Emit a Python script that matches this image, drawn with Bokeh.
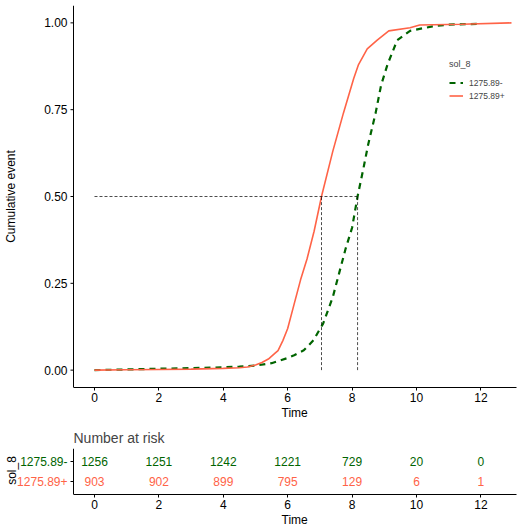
import math
from bokeh.plotting import figure
from bokeh.models import (ColumnDataSource, Range1d, FixedTicker, Legend, LegendItem, Title)
from bokeh.layouts import column
from bokeh.embed import file_html
from bokeh.resources import INLINE
from bokeh.core.properties import value

# ---------------- data ----------------
groups = ["1275.89-", "1275.89+"]
colors = ["#006400", "#FF6347"]
strata_name = "sol_8"

t_low = [0, 1, 2, 3, 4, 4.5, 5.0, 5.5, 6.0, 6.2, 6.5, 6.8, 7.1, 7.4, 7.6, 7.8, 8.0,
         8.17, 8.35, 8.5, 8.73, 8.9, 9.1, 9.4, 9.8, 10.5, 11.0, 11.9]
y_low = [0, 0.002, 0.004, 0.006, 0.008, 0.01, 0.013, 0.02, 0.035, 0.043, 0.057, 0.086,
         0.134, 0.21, 0.28, 0.35, 0.41, 0.50, 0.58, 0.65, 0.74, 0.82, 0.88, 0.95, 0.977,
         0.99, 0.995, 0.997]

t_high = [0, 1, 2, 3, 4, 4.5, 4.75, 5.0, 5.2, 5.4, 5.6, 5.7, 5.85, 6.0, 6.2, 6.4, 6.6,
          6.82, 7.05, 7.4, 7.73, 8.05, 8.2, 8.47, 8.78, 9.14, 9.8, 10.1, 11.4, 12.95]
y_high = [0, 0.001, 0.002, 0.003, 0.005, 0.007, 0.009, 0.015, 0.022, 0.032, 0.048, 0.056,
          0.085, 0.12, 0.19, 0.26, 0.32, 0.40, 0.50, 0.63, 0.74, 0.84, 0.88, 0.925, 0.95,
          0.977, 0.986, 0.994, 0.996, 1.0]

median_low = 8.17
median_high = 7.05

risk_times = [0, 2, 4, 6, 8, 10, 12]
risk_low = [1256, 1251, 1242, 1221, 729, 20, 0]
risk_high = [903, 902, 899, 795, 129, 6, 1]

x_ticks = [0, 2, 4, 6, 8, 10, 12]
y_ticks = [0, 0.25, 0.5, 0.75, 1.0]
y_tick_labels = ["0.00", "0.25", "0.50", "0.75", "1.00"]

FONT = "Liberation Sans"

# layout constants (pixels)
W = 529
FRAME_L = 73
FRAME_R = 516
X0, X1 = -0.652, 13.106
PX_PER_UNIT = (FRAME_R - FRAME_L) / (X1 - X0)
u = 1 / PX_PER_UNIT
FX0 = X0 - FRAME_L * u          # full-width frame range
FX1 = FX0 + W * u
XLABEL_OFFSET = 281             # left edge of the centred "Time" label


def style_axis(ax):
    ax.axis_line_color = "black"
    ax.axis_line_width = 1
    ax.major_tick_line_color = "black"
    ax.major_tick_out = 3
    ax.major_tick_in = 0
    ax.minor_tick_line_color = None
    ax.major_label_text_font = FONT
    ax.major_label_text_font_size = "12px"
    ax.major_label_text_color = "black"
    ax.major_label_standoff = 2


def x_title(fig):
    ttl = Title(text="Time", align="left", offset=XLABEL_OFFSET, standoff=-2,
                text_font=FONT, text_font_size="12px", text_font_style="normal",
                text_color="black")
    fig.add_layout(ttl, "below")


def left_axis(fig, y0, y1, ticks, labels, label_colors, title, title_y, title_dx):
    fig.segment(x0=[X0], y0=[y0], x1=[X0], y1=[y1], line_color="black", line_width=1)
    fig.segment(x0=[X0 - 3 * u] * len(ticks), y0=ticks, x1=[X0] * len(ticks), y1=ticks,
                line_color="black", line_width=1)
    src = ColumnDataSource(dict(x=[X0 - 6 * u] * len(ticks), y=ticks, txt=labels, c=label_colors))
    fig.text(x="x", y="y", text="txt", text_color="c", source=src,
             text_font=value(FONT), text_font_size="12px",
             text_align="right", text_baseline="middle")
    fig.text(x=[X0 - title_dx * u], y=[title_y], text=[title], angle=math.pi / 2,
             text_color="black", text_font=value(FONT), text_font_size="12px",
             text_align="center", text_baseline="middle")


# ---------------- main plot ----------------
YA, YB = -0.05, 1.05
p = figure(width=W, height=423, output_backend="svg", toolbar_location=None,
           x_range=Range1d(FX0, FX1), y_range=Range1d(YA, YB),
           min_border_left=0, min_border_right=0,
           min_border_top=5, min_border_bottom=36)
p.outline_line_color = None
p.grid.visible = False

r_low = p.line(t_low, y_low, line_color=colors[0], line_width=2.2, line_dash="6 5")
r_high = p.line(t_high, y_high, line_color=colors[1], line_width=1.6)

# median lines
p.line([0, median_low], [0.5, 0.5], line_color="black", line_width=0.7, line_dash="3 2")
p.line([median_high, median_high], [0, 0.5], line_color="black", line_width=0.7, line_dash="3 2")
p.line([median_low, median_low], [0, 0.5], line_color="black", line_width=0.7, line_dash="3 2")

style_axis(p.xaxis[0])
p.xaxis.ticker = FixedTicker(ticks=x_ticks)
p.xaxis.bounds = (X0, X1)
x_title(p)
p.yaxis.visible = False
left_axis(p, YA, YB, y_ticks, y_tick_labels, ["black"] * len(y_ticks),
          "Cumulative event", 0.5, 63)

legend = Legend(items=[LegendItem(label=groups[0], renderers=[r_low]),
                       LegendItem(label=groups[1], renderers=[r_high])],
                location=(449, 286), title=strata_name)
legend.title_text_font = FONT
legend.title_text_font_size = "9px"
legend.title_text_font_style = "normal"
legend.title_standoff = 8
legend.label_text_font = FONT
legend.label_text_font_size = "8.5px"
legend.label_height = 11
legend.glyph_height = 11
legend.glyph_width = 14
legend.label_standoff = 6
legend.spacing = 2
legend.padding = 4
legend.margin = 0
legend.border_line_color = None
legend.background_fill_alpha = 0
p.add_layout(legend, "center")

# ---------------- risk table ----------------
ty0, ty1 = -13 / 20, 1 + 13 / 20
t = figure(width=W, height=106, output_backend="svg", toolbar_location=None,
           x_range=Range1d(FX0, FX1), y_range=Range1d(ty0, ty1),
           min_border_left=0, min_border_right=0, min_border_top=25, min_border_bottom=35,
           title="Number at risk")
t.outline_line_color = None
t.grid.visible = False
t.title.text_font = FONT
t.title.text_font_size = "14px"
t.title.text_font_style = "normal"
t.title.align = "left"
t.title.offset = FRAME_L
t.title.standoff = 5

src_low = ColumnDataSource(dict(x=risk_times, y=[1] * len(risk_times),
                                txt=[str(v) for v in risk_low]))
src_high = ColumnDataSource(dict(x=risk_times, y=[0] * len(risk_times),
                                 txt=[str(v) for v in risk_high]))
for src, c in ((src_low, colors[0]), (src_high, colors[1])):
    t.text(x="x", y="y", text="txt", source=src, text_color=c,
           text_font=value(FONT), text_font_size="12px",
           text_align="center", text_baseline="middle")

style_axis(t.xaxis[0])
t.xaxis.ticker = FixedTicker(ticks=x_ticks)
t.xaxis.bounds = (X0, X1)
x_title(t)
t.yaxis.visible = False
left_axis(t, ty0, ty1, [1, 0], groups, colors, strata_name, 0.55, 62)

layout = column(p, t, spacing=0)
open("out.html", "w").write(file_html(layout, INLINE))
